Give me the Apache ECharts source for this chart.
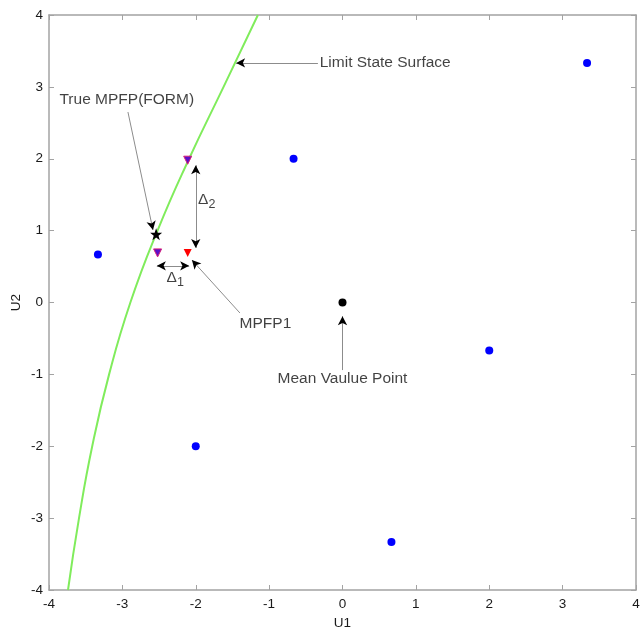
<!DOCTYPE html>
<html>
<head>
<meta charset="utf-8">
<script src="https://cdn.jsdelivr.net/npm/echarts@6/dist/echarts.min.js"></script>
<style>html,body{margin:0;padding:0;background:#fff}#c{width:640px;height:631px}</style>
</head>
<body>
<div id="c"></div>
<script>
// ---- data ----
const xTicks = [-4, -3, -2, -1, 0, 1, 2, 3, 4];
const yTicks = [-4, -3, -2, -1, 0, 1, 2, 3, 4];
const samplePoints = [[-3.333, 0.667], [-0.667, 2], [3.333, 3.333], [2, -0.667], [-2, -2], [0.667, -3.333]];
const meanPoint = [[0, 0]];
const trueMPFP = [[-2.54, 0.95]];
const purpleTriangles = [[-2.52, 0.69], [-2.11, 1.98]];
const redTriangles = [[-2.11, 0.69]];
const limitU1 = [-3.741, -3.591, -3.411, -3.181, -2.891, -2.521, -2.091, -1.621, -1.153];
const limitU2 = [-4, -3, -2, -1, 0, 1, 2, 3, 4];
// annotation texts: [u1, u2, text, align]
const annotTexts = [
  [-0.31, 3.333, 'Limit State Surface', 'left'],
  [-2.94, 2.82, 'True MPFP(FORM)', 'center'],
  [-1.05, -0.30, 'MPFP1', 'center'],
  [0, -1.06, 'Mean Vaulue Point', 'center']
];
const deltaTexts = [[-1.85, 1.43, '2'], [-2.28, 0.34, '1']];
// arrows: [from, to, doubleHeaded]
const arrows = [
  [[-0.335, 3.333], [-1.45, 3.333], false],
  [[-2.924, 2.65], [-2.583, 1.009], false],
  [[-2.0, 1.91], [-2.0, 0.76], true],
  [[-2.53, 0.51], [-2.09, 0.51], true],
  [[-1.398, -0.146], [-2.052, 0.591], false],
  [[0, -0.94], [0, -0.19], false]
];

// ---- chart ----
const font = 'Liberation Sans, Arial, sans-serif';
const axisColor = '#a3a3a3';
const textSize = 15.5;
const chart = echarts.init(document.getElementById('c'));
const curve = limitU1.map((u, i) => [u, limitU2[i]]);
const starPath = 'path://M0,-10L2.35,-3.24L9.51,-3.09L3.8,1.24L5.88,8.09L0,4L-5.88,8.09L-3.8,1.24L-9.51,-3.09L-2.35,-3.24Z';

const lineData = arrows.map(a => [
  { coord: a[0], symbol: 'none' },
  { coord: a[1], symbol: 'none' }
]);
const headData = arrows.map(a => [
  { coord: a[0], symbol: a[2] ? 'arrow' : 'none' },
  { coord: a[1], symbol: 'arrow' }
]);

const mkAxisX = (pos, labels) => ({
  type: 'value', position: pos, min: -4, max: 4, interval: 1,
  axisLine: { show: true, onZero: false, lineStyle: { color: axisColor, width: 1.5 } },
  axisTick: { show: true, inside: true, length: 5, lineStyle: { color: axisColor } },
  axisLabel: { show: labels, color: '#1a1a1a', fontFamily: font, fontSize: 13.5, margin: 7 },
  splitLine: { show: false },
  name: labels ? 'U1' : '', nameLocation: 'middle', nameGap: 26, nameMoveOverlap: false,
  nameTextStyle: { color: '#1a1a1a', fontFamily: font, fontSize: 13.5 }
});
const mkAxisY = (pos, labels) => ({
  type: 'value', position: pos, min: -4, max: 4, interval: 1,
  axisLine: { show: true, onZero: false, lineStyle: { color: axisColor, width: 1.5 } },
  axisTick: { show: true, inside: true, length: 5, lineStyle: { color: axisColor } },
  axisLabel: { show: labels, color: '#1a1a1a', fontFamily: font, fontSize: 13.5, margin: 6 },
  splitLine: { show: false },
  name: labels ? 'U2' : '', nameLocation: 'middle', nameGap: 26, nameRotate: 90, nameMoveOverlap: false,
  nameTextStyle: { color: '#1a1a1a', fontFamily: font, fontSize: 13.5 }
});

chart.setOption({
  animation: false,
  grid: { left: 49, right: 4, top: 15, bottom: 41, show: false, containLabel: false, outerBoundsMode: 'none' },
  xAxis: [mkAxisX('bottom', true), mkAxisX('top', false)],
  yAxis: [mkAxisY('left', true), mkAxisY('right', false)],
  series: [
    {
      type: 'line', data: curve, smooth: 0.5, showSymbol: false, symbol: 'none',
      lineStyle: { color: '#80ec5c', width: 2 }, silent: true, z: 2
    },
    {
      type: 'scatter', data: samplePoints, symbol: 'circle', symbolSize: 8,
      itemStyle: { color: '#0000ff', opacity: 1 }, z: 3
    },
    {
      type: 'scatter', data: meanPoint, symbol: 'circle', symbolSize: 8,
      itemStyle: { color: '#000', opacity: 1 }, z: 3
    },
    {
      type: 'scatter', data: purpleTriangles, symbol: 'triangle', symbolRotate: 180, symbolSize: 8,
      itemStyle: { color: '#5a10c8', borderColor: '#d8207a', borderWidth: 1, opacity: 1 }, z: 3
    },
    {
      type: 'scatter', data: redTriangles, symbol: 'triangle', symbolRotate: 180, symbolSize: 8,
      itemStyle: { color: '#ff0000', opacity: 1 }, z: 3
    },
    {
      type: 'scatter', data: trueMPFP, symbol: starPath, symbolSize: 12,
      itemStyle: { color: '#000', opacity: 1 }, z: 4
    },
    {
      type: 'scatter', data: [], silent: true,
      markLine: {
        silent: true, symbol: 'none', label: { show: false },
        lineStyle: { color: '#8c8c8c', width: 1, type: 'solid' },
        emphasis: { disabled: true }, data: lineData
      }
    },
    {
      type: 'scatter', data: [], silent: true, z: 5,
      markLine: {
        silent: true, symbolSize: [7, 9], label: { show: false },
        lineStyle: { color: '#000', width: 0, type: 'solid' },
        emphasis: { disabled: true }, data: headData
      }
    },
    {
      type: 'scatter', silent: true, symbolSize: 0, z: 6,
      data: annotTexts.map(t => ({ value: [t[0], t[1]], name: t[2], label: { align: t[3] } })),
      label: {
        show: true, position: 'inside', color: '#111', fontFamily: font, fontSize: textSize,
        formatter: p => p.name
      }
    },
    {
      type: 'scatter', silent: true, symbolSize: 0, z: 6,
      data: deltaTexts.map(t => ({ value: [t[0], t[1]], name: t[2] })),
      label: {
        show: true, position: 'inside', color: '#111', fontFamily: font, fontSize: textSize,
        formatter: p => 'Δ{s|' + p.name + '}',
        rich: { s: { fontFamily: font, fontSize: 12.5, color: '#111', padding: [9, 0, 0, 0] } }
      }
    }
  ]
});
</script>
</body>
</html>
